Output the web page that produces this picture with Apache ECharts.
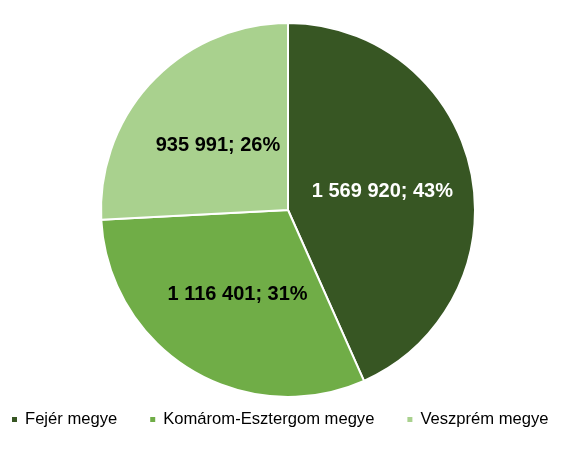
<!DOCTYPE html>
<html><head><meta charset="utf-8">
<script src="https://cdn.jsdelivr.net/npm/echarts@6/dist/echarts.min.js"></script>
<style>html,body{margin:0;padding:0;background:#fff}#c{width:562px;height:450px}</style>
</head><body><div id="c"></div>
<script>
const categories = ["Fejér megye", "Komárom-Esztergom megye", "Veszprém megye"];
const values = [1569920, 1116401, 935991];
const colors = ["#375623", "#70AD47", "#A9D18E"];
const labelColors = ["#ffffff", "#000000", "#000000"];

const total = values.reduce((a, b) => a + b, 0);
function fmt(v) { return String(v).replace(/\B(?=(\d{3})+(?!\d))/g, " "); }

const chart = echarts.init(document.getElementById('c'), null, {renderer: 'canvas'});
chart.setOption({
  animation: false,
  color: colors,
  legend: {
    data: categories,
    top: 411,
    left: 10,
    width: 552,
    padding: 0,
    icon: 'rect',
    itemWidth: 7,
    itemHeight: 7,
    itemGap: 31,
    textStyle: {fontFamily: 'Liberation Sans, Arial, sans-serif', fontSize: 16.6, color: '#000', padding: [0, 0, 0, 2]}
  },
  series: [{
    type: 'pie',
    center: [288, 210],
    radius: [0, 187],
    startAngle: 90,
    clockwise: true,
    itemStyle: {borderColor: '#fff', borderWidth: 2},
    label: {
      position: 'inside',
      fontFamily: 'Liberation Sans, Arial, sans-serif',
      fontWeight: 'bold',
      fontSize: 20,
      offset: [0, 2],
      formatter: p => fmt(p.value) + '; ' + Math.round(p.value / total * 100) + '%'
    },
    labelLine: {show: false},
    data: categories.map((n, i) => ({name: n, value: values[i], label: {color: labelColors[i]}}))
  }]
});
</script></body></html>
